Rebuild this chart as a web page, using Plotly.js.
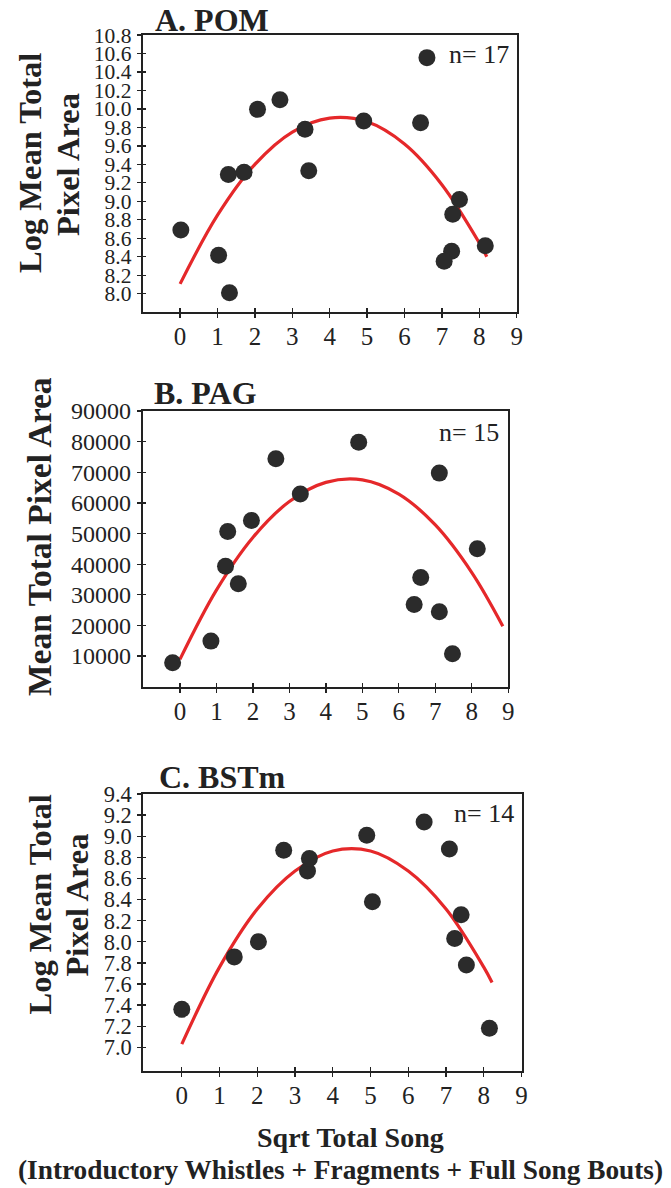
<!DOCTYPE html>
<html>
<head>
<meta charset="utf-8">
<script src="https://cdn.plot.ly/plotly-3.0.1.min.js"></script>
<style>html,body{margin:0;padding:0;background:#fff;}#chart{width:671px;height:1188px;}</style>
</head>
<body>
<div id="chart"></div>
<script>
// ---------- data ----------
const pomX = [0.02, 1.03, 1.32, 1.29, 1.71, 2.07, 2.67, 3.34, 3.44, 4.91, 6.43, 7.47, 7.29, 7.26, 7.06, 8.16, 6.60];
const pomY = [8.69, 8.415, 8.01, 9.29, 9.315, 9.995, 10.10, 9.78, 9.33, 9.87, 9.85, 9.02, 8.86, 8.46, 8.35, 8.52, 10.555];
const pagX = [-0.20, 0.85, 1.31, 1.25, 1.60, 1.96, 2.63, 3.30, 4.90, 6.42, 6.60, 7.11, 7.11, 7.47, 8.15];
const pagY = [7850, 14880, 50700, 39300, 33580, 54290, 74380, 62880, 79810, 26830, 35630, 69720, 24460, 10780, 45070];
const bstX = [0.0, 1.39, 2.03, 2.70, 3.33, 3.38, 4.90, 5.05, 6.42, 7.09, 7.40, 7.23, 7.54, 8.15];
const bstY = [7.36, 7.857, 8.0, 8.867, 8.67, 8.79, 9.01, 8.38, 9.135, 8.88, 8.255, 8.03, 7.78, 7.18];

// fitted quadratic curves
const fitAx = [0, 1, 2, 3, 4, 5, 6, 7, 8, 8.2];
const fitAy = [8.106, 8.85, 9.40, 9.75, 9.90, 9.86, 9.62, 9.18, 8.55, 8.40];
const fitBx = [0, 1, 2, 3, 4, 5, 6, 7, 8, 8.85];
const fitBy = [8920, 31540, 48720, 60440, 66710, 67530, 62890, 52810, 37270, 19770];
const fitCx = [0, 1, 2, 3, 4, 5, 6, 7, 8, 8.22];
const fitCy = [7.03, 7.76, 8.31, 8.67, 8.86, 8.86, 8.67, 8.31, 7.76, 7.615];

// tick labels
const xTicks = [0, 1, 2, 3, 4, 5, 6, 7, 8, 9];
const yTicksA = [8.0, 8.2, 8.4, 8.6, 8.8, 9.0, 9.2, 9.4, 9.6, 9.8, 10.0, 10.2, 10.4, 10.6, 10.8];
const yTicksB = [10000, 20000, 30000, 40000, 50000, 60000, 70000, 80000, 90000];
const yTicksC = [7.0, 7.2, 7.4, 7.6, 7.8, 8.0, 8.2, 8.4, 8.6, 8.8, 9.0, 9.2, 9.4];

const panelTitles = ['A. POM', 'B. PAG', 'C. BSTm'];
const nLabels = ['n= 17', 'n= 15', 'n= 14'];

// ---------- styling ----------
const W = 671, H = 1188;
const FONT = 'Liberation Serif, Times New Roman, serif';
const INK = '#222222';
const DOT = '#2b2b2b';
const RED = '#e5282a';
const px = v => v / W;
const py = v => 1 - v / H;

// panel boxes in pixels: [left, right, top, bottom]
const boxes = [
  [142.7, 516.7, 35, 311.7],
  [142.7, 508.3, 411, 686.7],
  [143.3, 521.5, 794, 1071.3]
];
const xRanges = [[-1, 9], [-1.02, 9], [-1.02, 9]];
const yRanges = [[7.805, 10.8], [0, 90000], [6.773, 9.4]];
const yTickSets = [yTicksA, yTicksB, yTicksC];
const yFormats = ['.1f', 'd', '.1f'];
const yTickSizes = [21.5, 24, 22.5];

const traces = [];
const layout = {
  width: W, height: H,
  margin: {l: 0, r: 0, t: 0, b: 0},
  paper_bgcolor: '#fff', plot_bgcolor: '#fff',
  showlegend: false,
  font: {family: FONT, color: INK},
  annotations: []
};

const series = [[pomX, pomY, fitAx, fitAy], [pagX, pagY, fitBx, fitBy], [bstX, bstY, fitCx, fitCy]];

for (let i = 0; i < 3; i++) {
  const n = i + 1;
  const xa = 'x' + (n === 1 ? '' : n), ya = 'y' + (n === 1 ? '' : n);
  const xo = 'x' + (n + 3), yo = 'y' + (n + 3);
  const b = boxes[i];
  const [sx, sy, fx, fy] = series[i];

  traces.push({x: fx, y: fy, xaxis: xa, yaxis: ya, type: 'scatter', mode: 'lines',
    line: {color: RED, width: 3.2, shape: 'spline', smoothing: 1}, hoverinfo: 'skip'});
  traces.push({x: sx, y: sy, xaxis: xa, yaxis: ya, type: 'scatter', mode: 'markers',
    marker: {color: DOT, size: 17}});
  // carriers for the inner half of the crossing ticks
  traces.push({x: [], y: [], xaxis: xo, yaxis: ya, type: 'scatter', mode: 'markers'});
  traces.push({x: [], y: [], xaxis: xa, yaxis: yo, type: 'scatter', mode: 'markers'});

  const xDom = [px(b[0]), px(b[1])];
  const yDom = [py(b[3]), py(b[2])];
  const xk = 'xaxis' + (n === 1 ? '' : n), yk = 'yaxis' + (n === 1 ? '' : n);

  layout[xk] = {
    domain: xDom, anchor: ya, range: xRanges[i], fixedrange: true,
    tickmode: 'array', tickvals: xTicks, ticktext: xTicks.map(String),
    ticks: 'outside', ticklen: 4, tickwidth: 1.3, tickcolor: INK,
    ticklabelstandoff: -3,
    tickfont: {family: FONT, size: 25, color: INK},
    showline: true, linecolor: INK, linewidth: 2, mirror: true,
    showgrid: false, zeroline: false
  };
  layout[yk] = {
    domain: yDom, anchor: xa, range: yRanges[i], fixedrange: true,
    tickmode: 'array', tickvals: yTickSets[i], tickformat: yFormats[i],
    ticks: 'outside', ticklen: 4, tickwidth: 1.3, tickcolor: INK,
    ticklabelstandoff: 1,
    tickfont: {family: FONT, size: yTickSizes[i], color: INK},
    showline: true, linecolor: INK, linewidth: 2, mirror: true,
    showgrid: false, zeroline: false
  };
  layout['xaxis' + (n + 3)] = {
    domain: xDom, anchor: ya, overlaying: xa, range: xRanges[i], fixedrange: true,
    tickmode: 'array', tickvals: xTicks, ticks: 'inside', ticklen: 4, tickwidth: 1.3,
    tickcolor: INK, showticklabels: false, showline: false, showgrid: false, zeroline: false
  };
  layout['yaxis' + (n + 3)] = {
    domain: yDom, anchor: xa, overlaying: ya, range: yRanges[i], fixedrange: true,
    tickmode: 'array', tickvals: yTickSets[i], ticks: 'inside', ticklen: 3, tickwidth: 1.3,
    tickcolor: INK, showticklabels: false, showline: false, showgrid: false, zeroline: false
  };
}

const ann = (text, x, y, opts) => Object.assign({
  text: text, xref: 'paper', yref: 'paper', x: px(x), y: py(y),
  showarrow: false, xanchor: 'center', yanchor: 'middle',
  font: {family: FONT, size: 26, color: INK}
}, opts || {});

// panel titles
const titlePos = [[153, 20], [152, 393], [157, 777]];
panelTitles.forEach((t, i) => layout.annotations.push(
  ann('<b>' + t + '</b>', titlePos[i][0], titlePos[i][1], {xanchor: 'left', font: {family: FONT, size: 32, color: INK}})));

// n labels
const nPos = [[511, 55], [501, 433], [516, 813]];
nLabels.forEach((t, i) => layout.annotations.push(
  ann(t, nPos[i][0], nPos[i][1], {xanchor: 'right', font: {family: FONT, size: 26, color: INK}})));

// y axis titles
const yt = {family: FONT, size: 32.5, color: INK};
layout.annotations.push(ann('<b>Log Mean Total</b>', 30, 163, {textangle: -90, font: yt}));
layout.annotations.push(ann('<b>Pixel Area</b>', 68, 165, {textangle: -90, font: yt}));
layout.annotations.push(ann('<b>Mean Total Pixel Area</b>', 39, 537, {textangle: -90, font: {family: FONT, size: 33.5, color: INK}}));
layout.annotations.push(ann('<b>Log Mean Total</b>', 39.5, 905, {textangle: -90, font: yt}));
layout.annotations.push(ann('<b>Pixel Area</b>', 76.5, 905, {textangle: -90, font: yt}));

// x axis title (two lines)
layout.annotations.push(ann('<b>Sqrt Total Song</b>', 350, 1137, {font: {family: FONT, size: 28, color: INK}}));
layout.annotations.push(ann('<b>(Introductory Whistles + Fragments + Full Song Bouts)</b>', 340, 1170, {font: {family: FONT, size: 27.3, color: INK}}));

Plotly.newPlot('chart', traces, layout, {staticPlot: true, displayModeBar: false});
</script>
</body>
</html>
